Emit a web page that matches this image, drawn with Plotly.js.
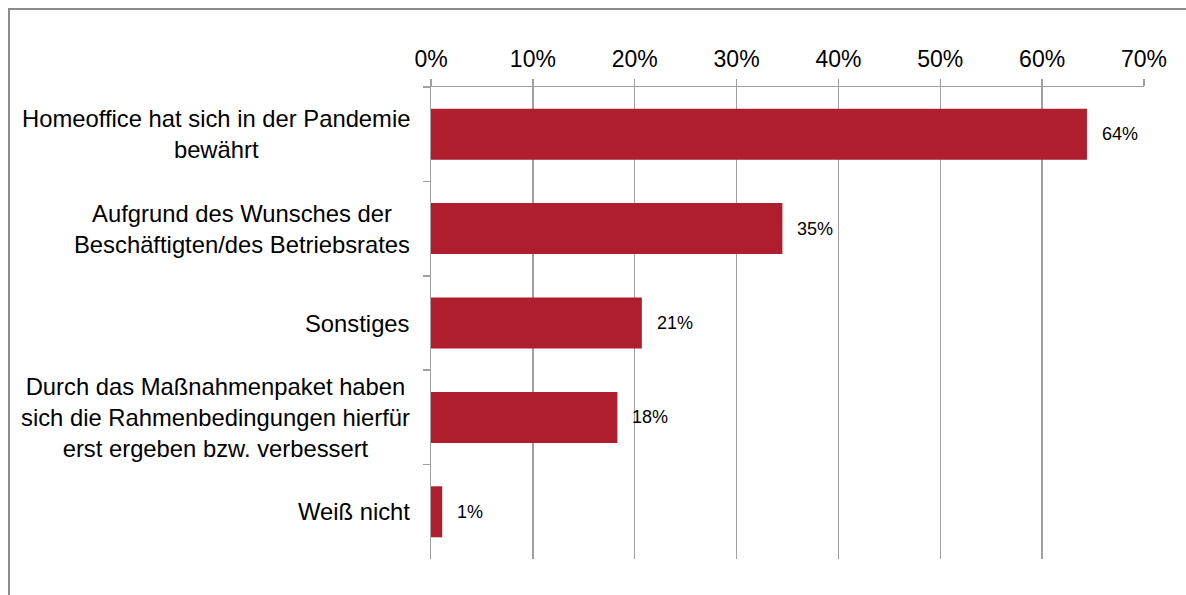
<!DOCTYPE html>
<html>
<head>
<meta charset="utf-8">
<script src="https://cdn.plot.ly/plotly-3.0.1.min.js"></script>
<style>
  html, body { margin: 0; padding: 0; background: #fff; }
  #chart { position: absolute; left: 0; top: 0; width: 1186px; height: 595px; }
  #frame { position: absolute; left: 8px; top: 8px; width: 1200px; height: 600px;
           border-top: 2px solid #8c8c8c; border-left: 2px solid #8c8c8c; pointer-events: none; }
</style>
</head>
<body>
<div id="chart"></div>
<div id="frame"></div>
<script>
const categories = [
  "Homeoffice hat sich in der Pandemie<br>bewährt",
  "Aufgrund des Wunsches der<br>Beschäftigten/des Betriebsrates",
  "Sonstiges",
  "Durch das Maßnahmenpaket haben<br>sich die Rahmenbedingungen hierfür<br>erst ergeben bzw. verbessert",
  "Weiß nicht"
];
const values = [64.4, 34.5, 20.7, 18.3, 1.1];
const valueLabels = ["64%", "35%", "21%", "18%", "1%"];
const xTicks = [0, 10, 20, 30, 40, 50, 60, 70];
const xTickLabels = ["0%", "10%", "20%", "30%", "40%", "50%", "60%", "70%"];

const FONT = "Liberation Sans, Arial, sans-serif";
const GRID = "#a0a0a0";

const trace = {
  type: "bar",
  orientation: "h",
  x: values,
  y: categories,
  marker: { color: "#AF1E2E", line: { width: 0 } },
  hoverinfo: "none"
};

const annotations = [];
categories.forEach((c, i) => {
  annotations.push({
    xref: "paper", yref: "y", x: 0, y: c,
    xanchor: "right", yanchor: "middle", xshift: -19,
    text: c, showarrow: false, align: "center",
    font: { family: FONT, size: 23.8, color: "#000" }
  });
  annotations.push({
    xref: "x", yref: "y", x: values[i], y: c,
    xanchor: "left", yanchor: "middle", xshift: 13,
    text: valueLabels[i], showarrow: false,
    font: { family: FONT, size: 18, color: "#000" }
  });
});

const layout = {
  width: 1186, height: 595,
  margin: { l: 431, r: 42, t: 87, b: 36, pad: 0 },
  paper_bgcolor: "rgba(0,0,0,0)",
  plot_bgcolor: "#fff",
  showlegend: false,
  bargap: 0.46,
  font: { family: FONT, color: "#000" },
  xaxis: {
    side: "top",
    range: [0, 70],
    tickvals: xTicks,
    ticktext: xTickLabels,
    ticks: "outside", ticklen: 7, tickwidth: 1.5, tickcolor: GRID,
    ticklabelstandoff: 2,
    showline: true, linecolor: GRID, linewidth: 1.5,
    showgrid: true, gridcolor: GRID, gridwidth: 1.5,
    zeroline: false,
    tickfont: { family: FONT, size: 23, color: "#000" },
    fixedrange: true
  },
  yaxis: {
    type: "category",
    categoryorder: "array",
    categoryarray: categories,
    autorange: "reversed",
    tickson: "boundaries",
    ticks: "outside", ticklen: 7, tickwidth: 1.5, tickcolor: GRID,
    showticklabels: false,
    showline: true, linecolor: GRID, linewidth: 1.5,
    showgrid: false, zeroline: false,
    fixedrange: true
  },
  annotations: annotations
};

Plotly.newPlot("chart", [trace], layout, { displayModeBar: false, staticPlot: true });
</script>
</body>
</html>
